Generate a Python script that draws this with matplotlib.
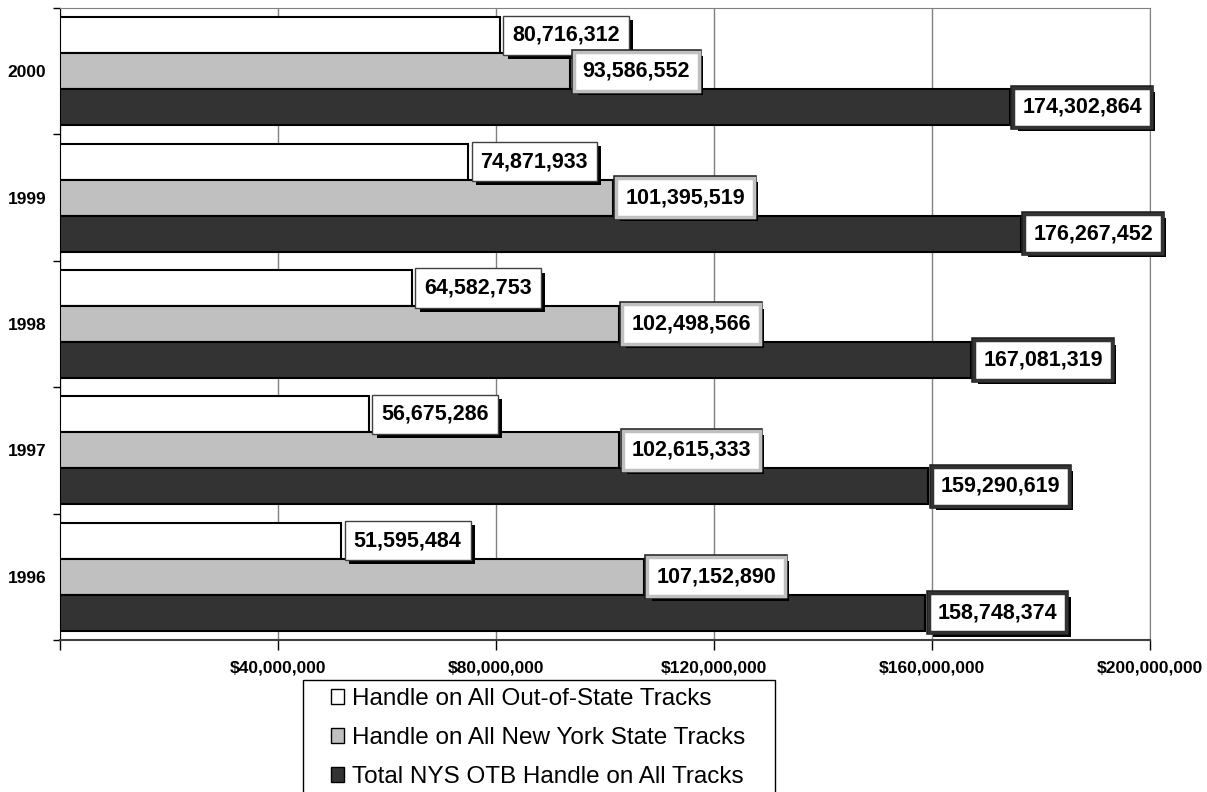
import matplotlib
matplotlib.use("Agg")
import matplotlib.pyplot as plt
import matplotlib.patheffects as pe
from matplotlib.patches import Patch, Rectangle
from matplotlib.ticker import FuncFormatter, FixedLocator

plt.rcParams['font.family'] = ['Liberation Sans', 'DejaVu Sans']

years = ['1996', '1997', '1998', '1999', '2000']
out_of_state = [51595484, 56675286, 64582753, 74871933, 80716312]
ny_state = [107152890, 102615333, 102498566, 101395519, 93586552]
total_otb = [158748374, 159290619, 167081319, 176267452, 174302864]

series = [
    ('Handle on All Out-of-State Tracks', out_of_state, 'white', '#404040'),
    ('Handle on All New York State Tracks', ny_state, '#c0c0c0', '#c0c0c0'),
    ('Total NYS OTB Handle on All Tracks', total_otb, '#333333', '#333333'),
]

fig = plt.figure(figsize=(12.07, 7.92), dpi=100)
ax = fig.add_axes([60 / 1207, 1 - 640 / 792, 1090 / 1207, 632 / 792])

bar_h = 0.285
offsets = [bar_h, 0, -bar_h]

for (name, vals, face, box_edge), off in zip(series, offsets):
    ys = [i + off for i in range(len(years))]
    ax.barh(ys, vals, height=bar_h, color=face, edgecolor='black',
            linewidth=1.5, zorder=3)
    for y, v in zip(ys, vals):
        t = ax.text(v + 2.3e6, y, f'{v:,}', va='center', ha='left',
                    fontsize=15.5, fontweight='bold', zorder=5,
                    bbox=dict(boxstyle='square,pad=0.42', facecolor='white',
                              edgecolor=box_edge,
                              linewidth=1.0 if face == 'white' else 2.5))
        effects = [pe.SimplePatchShadow(offset=(3, -3),
                                        shadow_rgbFace='black', alpha=1)]
        if face != 'white':
            effects.append(pe.Stroke(linewidth=4, foreground='#202020'))
        effects.append(pe.Normal())
        t.get_bbox_patch().set_path_effects(effects)

ax.set_xlim(0, 200e6)
ax.set_ylim(-0.5, len(years) - 0.5)

ax.xaxis.set_major_locator(FixedLocator([0, 40e6, 80e6, 120e6, 160e6, 200e6]))
ax.xaxis.set_major_formatter(
    FuncFormatter(lambda v, p: '' if v == 0 else f'${v:,.0f}'))
ax.tick_params(axis='x', direction='out', length=7, width=1, pad=8,
               labelsize=12.5, color='black')
for lbl in ax.get_xticklabels():
    lbl.set_fontweight('bold')

ax.set_yticks(range(len(years)))
ax.set_yticklabels(years, fontsize=12.5, fontweight='bold')
ax.tick_params(axis='y', which='major', length=0, pad=10)
ax.yaxis.set_minor_locator(FixedLocator([i - 0.5 for i in range(len(years) + 1)]))
ax.tick_params(axis='y', which='minor', direction='out', length=5, width=1)

ax.grid(axis='x', color='#808080', linewidth=1, zorder=0)
ax.set_axisbelow(True)
ax.spines['left'].set_color('black')
ax.spines['bottom'].set_color('#404040')
ax.spines['bottom'].set_linewidth(1.5)
ax.spines['top'].set_color('#808080')
ax.spines['right'].set_color('#808080')

# legend frame (bottom edge runs off the figure)
fig.patches.append(Rectangle((303 / 1207, -0.05), 472 / 1207, 0.05 + 112 / 792,
                             transform=fig.transFigure, facecolor='white',
                             edgecolor='black', linewidth=1))
handles = [Patch(facecolor=f, edgecolor='black', linewidth=1) for _, _, f, _ in series]
fig.legend(handles, [s[0] for s in series], loc='upper left',
           bbox_to_anchor=(326 / 1207, 1 - 683 / 792), frameon=False,
           fontsize=17.5, handlelength=0.55, handleheight=0.55,
           handletextpad=0.3, labelspacing=0.70, borderaxespad=0, borderpad=0.2)

fig.savefig('out.png', dpi=100)
